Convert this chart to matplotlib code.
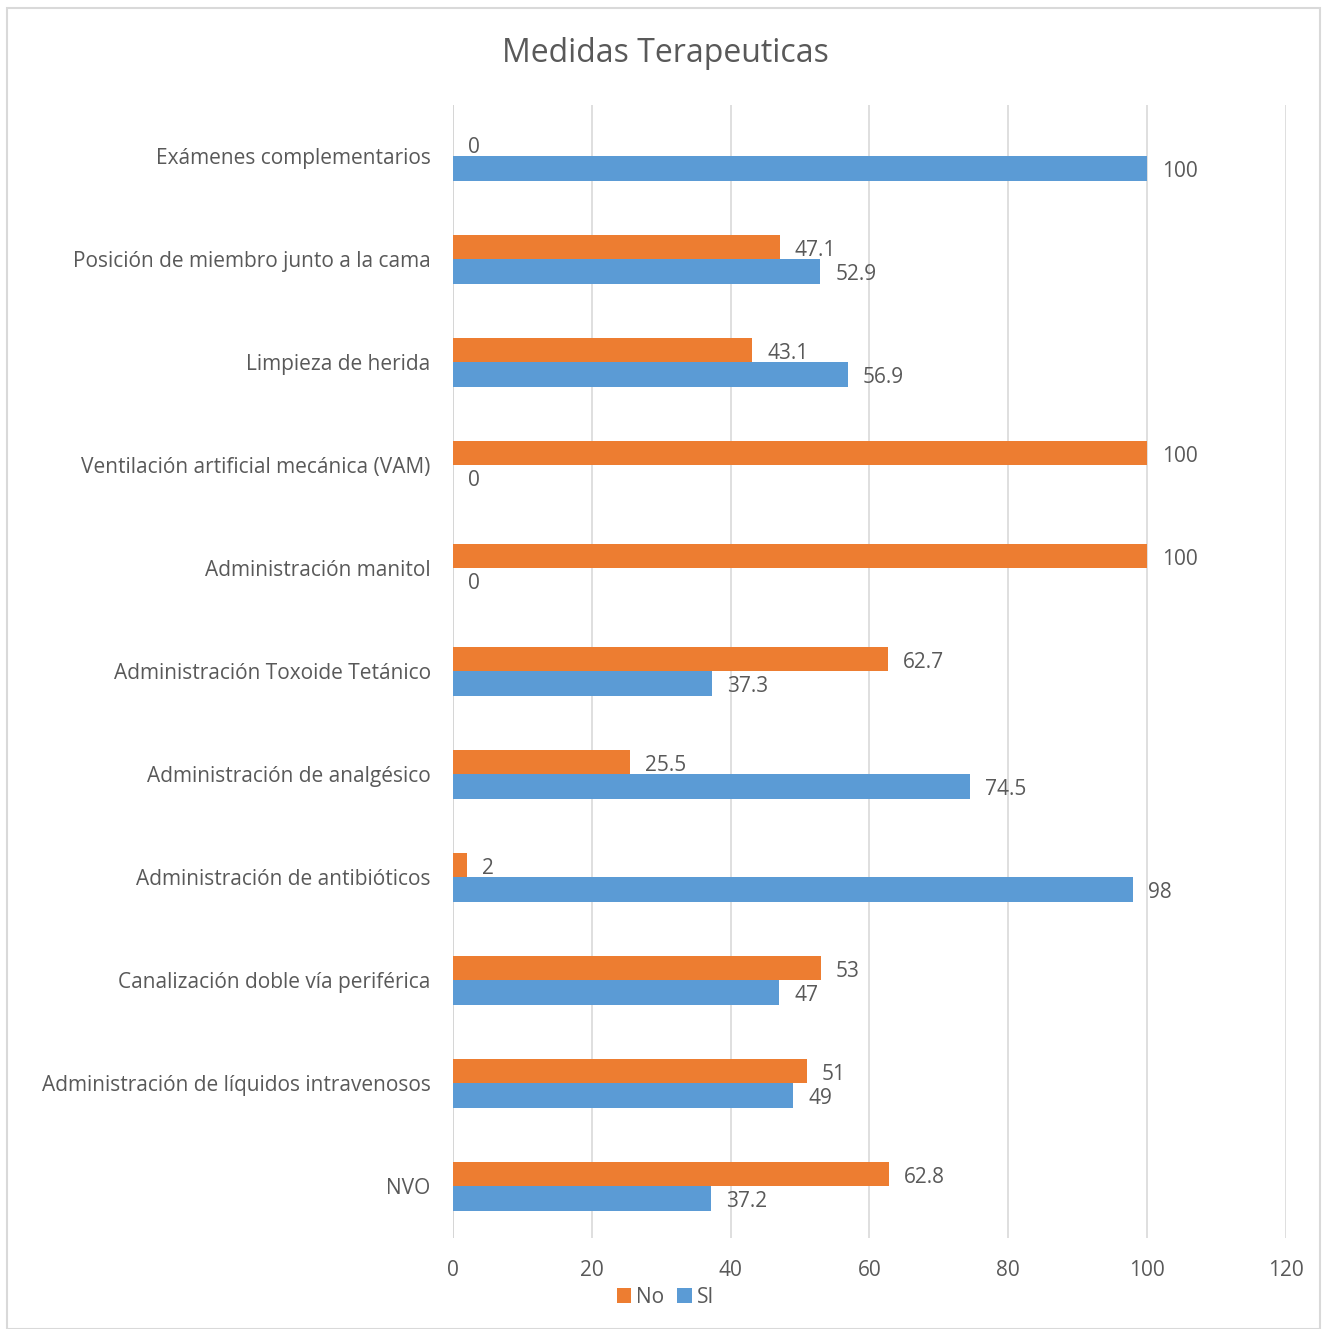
import numpy as np
import matplotlib.pyplot as plt
from matplotlib.patches import Rectangle

plt.rcParams['font.family'] = ['Open Sans', 'DejaVu Sans']

categorias = ['Exámenes complementarios',
              'Posición de miembro junto a la cama',
              'Limpieza de herida',
              'Ventilación artificial mecánica (VAM)',
              'Administración manitol',
              'Administración Toxoide Tetánico',
              'Administración de analgésico',
              'Administración de antibióticos',
              'Canalización doble vía periférica',
              'Administración de líquidos intravenosos',
              'NVO']
no_vals = [0, 47.1, 43.1, 100, 100, 62.7, 25.5, 2, 53, 51, 62.8]
si_vals = [100, 52.9, 56.9, 0, 0, 37.3, 74.5, 98, 47, 49, 37.2]

naranja = '#ED7D31'
azul = '#5B9BD5'
gris = '#595959'

fig = plt.figure(figsize=(13.31, 13.29), dpi=100)
ax = fig.add_axes([0.3403, 0.0685, 0.6259, 0.8525])

y = np.arange(len(categorias))
h = 0.235
b1 = ax.barh(y - h/2, no_vals, height=h, color=naranja, label='No')
b2 = ax.barh(y + h/2, si_vals, height=h, color=azul, label='SI')

# etiquetas de valores
for bars, vals in [(b1, no_vals), (b2, si_vals)]:
    for bar, v in zip(bars, vals):
        ax.annotate(f'{v:g}', (v, bar.get_y() + bar.get_height()/2),
                    xytext=(15, -3), textcoords='offset pixels',
                    va='center', ha='left', fontsize=15, color=gris)

ax.set_xlim(0, 120)
ax.set_ylim(len(categorias) - 0.5, -0.5)
ax.set_xticks(np.arange(0, 121, 20))
ax.set_yticks(y)
ax.set_yticklabels(categorias)
ax.tick_params(axis='both', length=0, labelsize=15, colors=gris)
ax.tick_params(axis='x', pad=16)
ax.tick_params(axis='y', pad=16)
ax.grid(axis='x', color='#d9d9d9', linewidth=1.2)
ax.set_axisbelow(True)
for s in ['top', 'right', 'bottom', 'left']:
    ax.spines[s].set_visible(False)
ax.axvline(0, color='#bfbfbf', linewidth=1.2, zorder=0.5)

fig.suptitle('Medidas Terapeuticas', y=0.972, fontsize=23, color=gris)

fig.legend(handles=[b1, b2], labels=['No', 'SI'], loc='center',
           bbox_to_anchor=(0.5, 0.024), ncol=2, frameon=False, fontsize=15,
           handlelength=0.7, handleheight=0.7, handletextpad=0.25,
           columnspacing=0.6, labelcolor=gris)

fig.patches.append(Rectangle((0.005, 0.0), 0.987, 0.994, transform=fig.transFigure,
                             fill=False, edgecolor='#d9d9d9', linewidth=1.5))

fig.savefig('out.png', dpi=100)
